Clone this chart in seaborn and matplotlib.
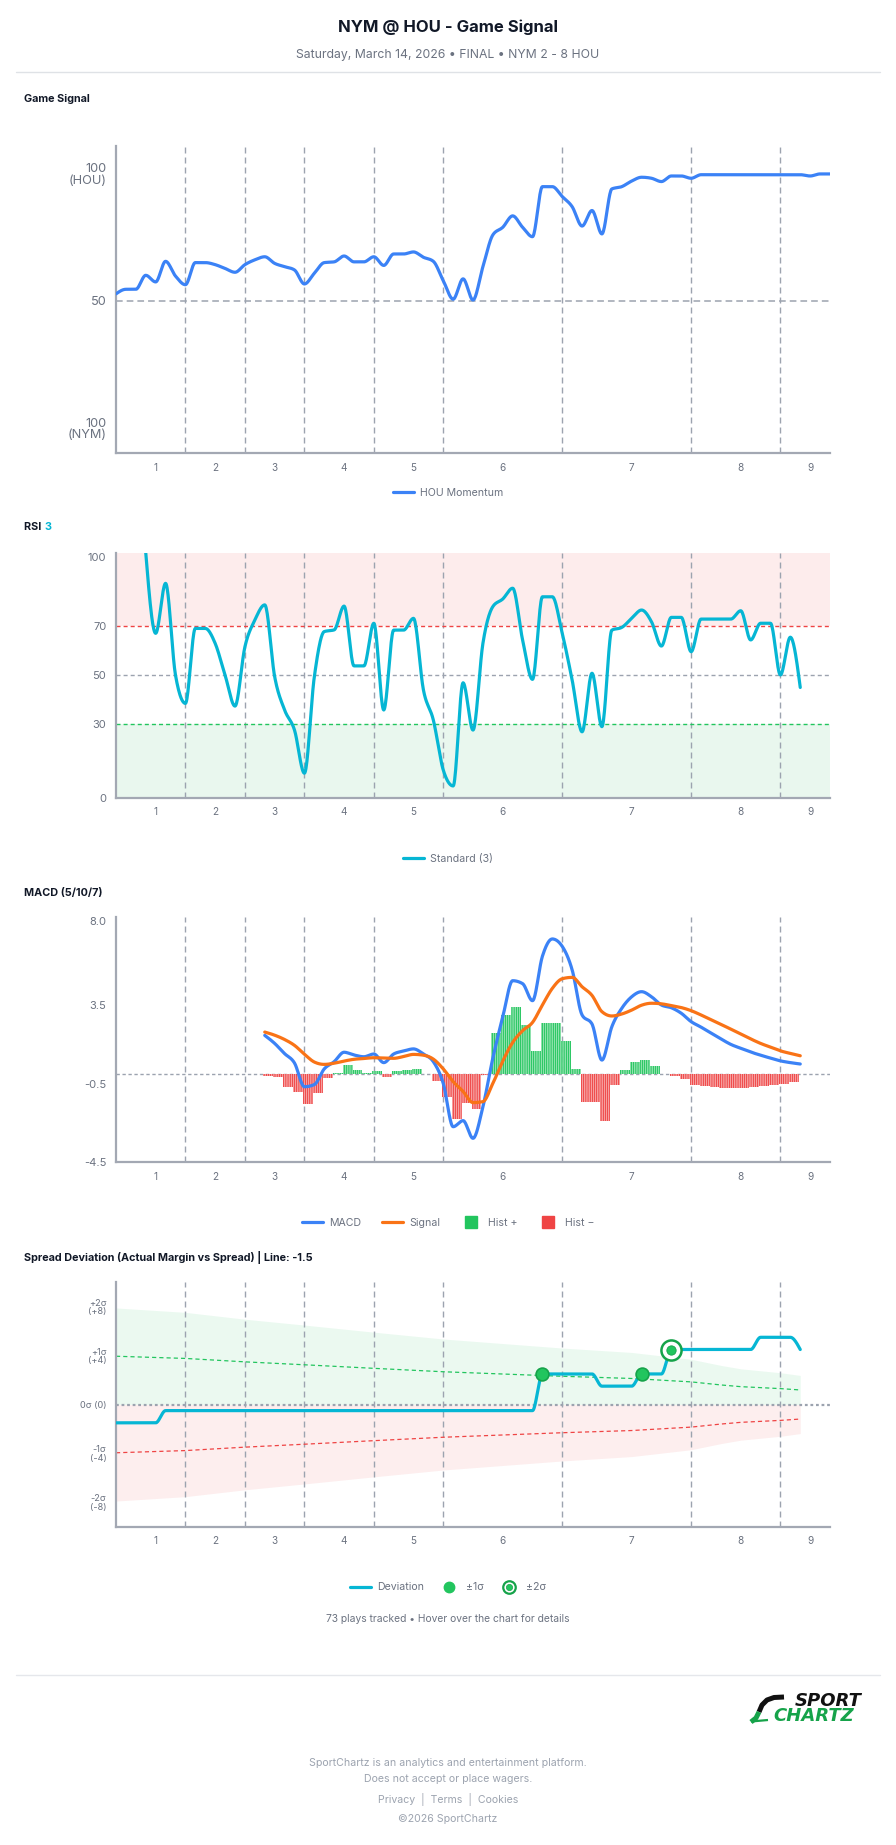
import numpy as np
import pandas as pd
import matplotlib
matplotlib.use("Agg")
import matplotlib.pyplot as plt
import seaborn as sns
from matplotlib.lines import Line2D
from matplotlib.legend_handler import HandlerTuple

# ------------------------------------------------------------------ data
inning_labels = ["1", "2", "3", "4", "5", "6", "7", "8", "9"]
inning_tick_plays = [4, 10, 16, 23, 30, 39, 52, 63, 70]
inning_boundaries = [7, 13, 19, 26, 33, 45, 58, 67]

signal_plays = list(range(0, 73))
signal_values = [52.8, 54.6, 54.6, 60.1, 57.5, 65.6, 59.8, 56.4, 65.1, 65.1,
                 64.3, 62.8, 61.3, 64.3, 66.2, 67.4, 64.8, 63.5, 62.2, 56.7,
                 60.9, 65.1, 65.4, 67.7, 65.4, 65.4, 67.4, 64.0, 68.5, 68.5,
                 69.3, 67.2, 65.6, 58.0, 50.7, 58.7, 50.4, 63.5, 76.0, 79.0,
                 83.5, 79.0, 75.3, 95.0, 95.0, 91.1, 87.1, 79.5, 85.6, 76.4,
                 94.1, 95.0, 97.2, 98.7, 98.3, 97.0, 99.2, 99.2, 98.3, 99.7,
                 99.7, 99.7, 99.7, 99.7, 99.7, 99.7, 99.7, 99.7, 99.7, 99.7,
                 99.2, 100.0, 100.0]

rsi_plays = list(range(3, 70))
rsi_values = [100, 67.1, 87.5, 50, 38.5, 69.1, 69.1, 63, 50, 37.4,
              61.6, 72.5, 78.7, 49.4, 35.8, 27.6, 10, 49.4, 67.8, 68.5,
              78.2, 53.8, 53.8, 71.2, 35.8, 68.4, 68.4, 73.2, 44, 31.7,
              11.3, 4.8, 46.9, 27.6, 63, 78, 81.1, 85.5, 64.4, 48.3,
              82, 82, 67.1, 48, 26.9, 50.8, 29, 68.4, 69.5, 73.2,
              76.6, 71.8, 61.9, 73.6, 73.6, 59.6, 72.9, 72.9, 72.9, 72.9,
              76.3, 64.4, 71.2, 71.2, 50.1, 65.5, 45]

macd_plays = list(range(15, 70))
macd_values = [1.96, 1.55, 1.03, 0.55, -0.66, -0.55, 0.25, 0.62, 1.10, 0.96,
               0.87, 1.01, 0.57, 1.01, 1.16, 1.27, 1.01, 0.62, -0.49, -2.70,
               -2.39, -3.29, -1.68, 0.80, 2.90, 4.75, 4.60, 3.73, 6.0, 6.88,
               6.5, 5.3, 3.0, 2.54, 0.70, 2.40, 3.34, 3.93, 4.19, 3.93,
               3.51, 3.37, 3.09, 2.66, 2.38, 2.08, 1.78, 1.50, 1.30, 1.11,
               0.95, 0.80, 0.66, 0.57, 0.50]
signal_line_values = [2.13, 1.97, 1.75, 1.45, 1.0, 0.6, 0.48, 0.54, 0.65, 0.74,
                      0.78, 0.82, 0.80, 0.79, 0.88, 0.99, 0.95, 0.75, 0.25, -0.4,
                      -0.9, -1.47, -1.42, -0.49, 0.65, 1.6, 2.2, 2.62, 3.51, 4.36,
                      4.85, 4.92, 4.44, 4.0, 3.17, 2.95, 3.05, 3.25, 3.5, 3.6,
                      3.57, 3.48, 3.38, 3.22, 3.0, 2.76, 2.52, 2.28, 2.03, 1.78,
                      1.55, 1.36, 1.17, 1.04, 0.92]
hist_plays = list(range(15, 69))
hist_values = [-0.11, -0.18, -0.66, -0.94, -1.54, -0.99, -0.23, 0.05, 0.43, 0.19,
               0.03, 0.14, -0.15, 0.12, 0.20, 0.25, -0.02, -0.35, -1.2, -2.3,
               -1.51, -1.82, -0.07, 2.06, 2.99, 3.42, 2.47, 1.16, 2.57, 2.6,
               1.68, 0.27, -1.43, -1.43, -2.41, -0.58, 0.19, 0.61, 0.70, 0.39,
               -0.02, -0.12, -0.29, -0.58, -0.61, -0.66, -0.70, -0.70, -0.70, -0.66,
               -0.63, -0.58, -0.53, -0.44]

dev_plays = list(range(0, 70))
dev_values = [-1.5, -1.5, -1.5, -1.5, -1.5, -0.5, -0.5, -0.5, -0.5, -0.5,
              -0.5, -0.5, -0.5, -0.5, -0.5, -0.5, -0.5, -0.5, -0.5, -0.5,
              -0.5, -0.5, -0.5, -0.5, -0.5, -0.5, -0.5, -0.5, -0.5, -0.5,
              -0.5, -0.5, -0.5, -0.5, -0.5, -0.5, -0.5, -0.5, -0.5, -0.5,
              -0.5, -0.5, -0.5, 2.5, 2.5, 2.5, 2.5, 2.5, 2.5, 1.5,
              1.5, 1.5, 1.5, 2.5, 2.5, 2.5, 4.5, 4.5, 4.5, 4.5,
              4.5, 4.5, 4.5, 4.5, 4.5, 5.5, 5.5, 5.5, 5.5, 4.5]
sigma_plays = [0, 7, 13, 19, 26, 33, 45, 52, 58, 61, 63, 67, 69]
sigma_values = [3.95, 3.77, 3.49, 3.25, 2.96, 2.68, 2.31, 2.13, 1.85, 1.6, 1.46, 1.30, 1.19]
one_sigma_hits = [43, 53]
two_sigma_hits = [56]

# ------------------------------------------------------------------ style
sns.set_theme(style="white")
plt.rcParams["font.family"] = ["Inter", "DejaVu Sans"]
plt.rcParams["lines.scale_dashes"] = False
plt.rcParams["hatch.linewidth"] = 0.35
plt.rcParams["hatch.color"] = "white"

W, H = 896, 1845
fig = plt.figure(figsize=(W / 100, H / 100), dpi=100)
fig.patch.set_facecolor("white")

GRAY = "#9ca3af"
TXT = "#6b7280"
BLUE = "#3b82f6"
CYAN = "#06b6d4"
ORANGE = "#f97316"
GREEN = "#22c55e"
DGREEN = "#16a34a"
RED = "#ef4444"
PANEL_TITLE = 7.8
LEG = 7.6


def fy(py):
    return 1 - py / H


def fx(px):
    return px / W


def make_ax(top, bottom):
    return fig.add_axes([fx(116), fy(bottom), fx(830) - fx(116), (bottom - top) / H])


def monotone(x, y, n=20):
    x = np.asarray(x, float)
    y = np.asarray(y, float)
    h = np.diff(x)
    s = np.diff(y) / h
    m = np.zeros_like(y)
    for k in range(1, len(y) - 1):
        s0, s1 = s[k - 1], s[k]
        p = (s0 * h[k] + s1 * h[k - 1]) / (h[k - 1] + h[k])
        m[k] = (np.sign(s0) + np.sign(s1)) * min(abs(s0), abs(s1), 0.5 * abs(p))
    if len(y) > 2:
        m[0] = (3 * s[0] - m[1]) / 2
        m[-1] = (3 * s[-1] - m[-2]) / 2
    else:
        m[:] = s[0]
    xs, ys = [], []
    for k in range(len(h)):
        t = np.linspace(0, 1, n, endpoint=(k == len(h) - 1))
        h00 = 2 * t**3 - 3 * t**2 + 1
        h10 = t**3 - 2 * t**2 + t
        h01 = -2 * t**3 + 3 * t**2
        h11 = t**3 - t**2
        xs.append(x[k] + t * h[k])
        ys.append(h00 * y[k] + h10 * h[k] * m[k] + h01 * y[k + 1] + h11 * h[k] * m[k + 1])
    return np.concatenate(xs), np.concatenate(ys)


def style_ax(ax, ylim, yticks, ylabels, ysize=8.0, top_label_down=False):
    ax.set_facecolor("white")
    for sp in ["top", "right"]:
        ax.spines[sp].set_visible(False)
    for sp in ["left", "bottom"]:
        ax.spines[sp].set_color("#a3a8b3")
        ax.spines[sp].set_linewidth(1.6)
    ax.set_xlim(0, 72)
    ax.set_ylim(*ylim)
    ax.set_xticks(inning_tick_plays)
    ax.set_xticklabels(inning_labels)
    ax.set_yticks(yticks)
    ax.set_yticklabels(ylabels)
    ax.tick_params(axis="x", length=4, width=1, color="#a3a8b3", labelsize=7.2,
                   labelcolor=TXT, pad=3, direction="out")
    ax.tick_params(axis="y", length=4, width=1, color="#a3a8b3", labelsize=ysize,
                   labelcolor=TXT, pad=3, direction="out")
    for lab in ax.get_yticklabels():
        lab.set_multialignment("right")
        lab.set_linespacing(0.95)
    if top_label_down:
        ax.get_yticklabels()[-1].set_verticalalignment("top")
    ax.grid(False)
    for b in inning_boundaries:
        ax.axvline(b, color=GRAY, lw=1.0, ls=(0, (4.3, 2.9)), zorder=1)
    ax.set_xlabel("")
    ax.set_ylabel("")


def legend(ax, handles, labels, y_px, **kw):
    opts = dict(loc="center", bbox_to_anchor=(0.5, fy(y_px)), bbox_transform=fig.transFigure,
                ncol=len(handles), frameon=False, fontsize=LEG, handlelength=2.0,
                columnspacing=1.9, handletextpad=0.6, labelcolor=TXT, borderaxespad=0)
    opts.update(kw)
    return ax.legend(handles, labels, **opts)


# ------------------------------------------------------------------ header
fig.text(0.5, fy(27), "NYM @ HOU - Game Signal", ha="center", va="center",
         fontsize=12, fontweight="bold", color="#111827")
fig.text(0.5, fy(55), "Saturday, March 14, 2026 \u2022 FINAL \u2022 NYM 2 - 8 HOU", ha="center",
         va="center", fontsize=8.8, color=TXT)
fig.add_artist(Line2D([fx(16), fx(880)], [fy(72), fy(72)], color="#dfe2e6", lw=1))

# ------------------------------------------------------------------ panel 1: game signal
fig.text(fx(24), fy(99), "Game Signal", ha="left", va="center", fontsize=PANEL_TITLE,
         fontweight="bold", color="#111827")
ax1 = make_ax(146, 453)
style_ax(ax1, (-9.84, 111.0), [0, 50, 100], ["100\n(NYM)", "50", "100\n(HOU)"], ysize=9.2)
ax1.axhline(50, color=GRAY, lw=1.1, ls=(0, (4.8, 2.9)), zorder=1)
sx, sy = monotone(signal_plays, signal_values)
sns.lineplot(x=sx, y=sy, ax=ax1, color=BLUE, lw=2.3, zorder=3, sort=False, estimator=None)
legend(ax1, [Line2D([], [], color=BLUE, lw=2.3)], ["HOU Momentum"], 493)

# ------------------------------------------------------------------ panel 2: RSI
t_rsi = fig.text(fx(24), fy(527), "RSI ", ha="left", va="center", fontsize=PANEL_TITLE,
                 fontweight="bold", color="#111827")
fig.canvas.draw()
bb = t_rsi.get_window_extent()
fig.text(bb.x1 / W, fy(527), "3", ha="left", va="center", fontsize=PANEL_TITLE,
         fontweight="bold", color=CYAN)
ax2 = make_ax(552.7, 797.7)
style_ax(ax2, (0, 100), [0, 30, 50, 70, 100], ["0", "30", "50", "70", "100"], ysize=8.0,
         top_label_down=True)
ax2.axhspan(70, 100, color="#fdecec", lw=0, zorder=0)
ax2.axhspan(0, 30, color="#e9f7ee", lw=0, zorder=0)
ax2.axhline(70, color=RED, lw=1.0, ls=(0, (2.9, 2.2)), zorder=2)
ax2.axhline(50, color=GRAY, lw=1.0, ls=(0, (2.9, 2.2)), zorder=2)
ax2.axhline(30, color=GREEN, lw=1.0, ls=(0, (2.9, 2.2)), zorder=2)
rx, ry = monotone(rsi_plays, rsi_values)
sns.lineplot(x=rx, y=ry, ax=ax2, color=CYAN, lw=2.3, zorder=3, sort=False, estimator=None)
legend(ax2, [Line2D([], [], color=CYAN, lw=2.3)], ["Standard (3)"], 858.7)

# ------------------------------------------------------------------ panel 3: MACD
fig.text(fx(24), fy(893), "MACD (5/10/7)", ha="left", va="center", fontsize=PANEL_TITLE,
         fontweight="bold", color="#111827")
ax3 = make_ax(917, 1162)
style_ax(ax3, (-4.5, 8.0), [-4.5, -0.5, 3.5, 8.0], ["-4.5", "-0.5", "3.5", "8.0"], ysize=8.0,
         top_label_down=True)
ax3.axhline(0, color=GRAY, lw=1.0, ls=(0, (2.4, 1.9)), zorder=1)
hx = np.asarray(hist_plays, float) + 0.35
hv = np.asarray(hist_values)
ax3.bar(hx, hv, width=1.0, color=np.where(hv >= 0, GREEN, RED), edgecolor="white",
        linewidth=0, hatch="|" * 9, zorder=2, alpha=0.95)
mx, my = monotone(macd_plays, macd_values)
gx, gy = monotone(macd_plays, signal_line_values)
sns.lineplot(x=mx, y=my, ax=ax3, color=BLUE, lw=2.3, zorder=4, sort=False, estimator=None)
sns.lineplot(x=gx, y=gy, ax=ax3, color=ORANGE, lw=2.3, zorder=4, sort=False, estimator=None)
legend(ax3,
       [Line2D([], [], color=BLUE, lw=2.3), Line2D([], [], color=ORANGE, lw=2.3),
        Line2D([], [], ls="", marker="s", ms=8.5, mfc=GREEN, mec=GREEN),
        Line2D([], [], ls="", marker="s", ms=8.5, mfc=RED, mec=RED)],
       ["MACD", "Signal", "Hist +", "Hist \u2212"], 1222.7)

# ------------------------------------------------------------------ panel 4: spread deviation
fig.text(fx(24), fy(1257), "Spread Deviation (Actual Margin vs Spread) | Line: -1.5", ha="left",
         va="center", fontsize=PANEL_TITLE, fontweight="bold", color="#111827")
ax4 = make_ax(1282.3, 1526.7)
style_ax(ax4, (-10, 10), [-8, -4, 0, 4, 8],
         ["-2\u03c3\n(-8)", "-1\u03c3\n(-4)", "0\u03c3 (0)", "+1\u03c3\n(+4)", "+2\u03c3\n(+8)"],
         ysize=6.6)
sp = np.asarray(sigma_plays, float)
sv = np.asarray(sigma_values)
ax4.fill_between(sp, 0, 2 * sv, color=GREEN, alpha=0.09, lw=0, zorder=0)
ax4.fill_between(sp, -2 * sv, 0, color=RED, alpha=0.09, lw=0, zorder=0)
ax4.plot(sp, sv, color=GREEN, lw=0.9, ls=(0, (3.0, 2.2)), zorder=2)
ax4.plot(sp, -sv, color=RED, lw=0.9, ls=(0, (3.0, 2.2)), zorder=2)
ax4.axhline(0, color=GRAY, lw=1.6, ls=(0, (2.0, 2.0)), zorder=2)
dx, dy = monotone(dev_plays, dev_values)
sns.lineplot(x=dx, y=dy, ax=ax4, color=CYAN, lw=2.3, zorder=4, sort=False, estimator=None)
dev_lookup = dict(zip(dev_plays, dev_values))
ax4.scatter(one_sigma_hits, [dev_lookup[p] for p in one_sigma_hits], s=85, color=GREEN,
            edgecolor=DGREEN, linewidth=1.2, zorder=6)
ax4.scatter(two_sigma_hits, [dev_lookup[p] for p in two_sigma_hits], s=210, facecolor="white",
            edgecolor=DGREEN, linewidth=1.8, zorder=6)
ax4.scatter(two_sigma_hits, [dev_lookup[p] for p in two_sigma_hits], s=45, color=GREEN,
            edgecolor=DGREEN, linewidth=0.6, zorder=7)
ring = (Line2D([], [], ls="", marker="o", ms=9, mfc="white", mec=DGREEN, mew=1.6),
        Line2D([], [], ls="", marker="o", ms=4.5, mfc=GREEN, mec=DGREEN, mew=0.5))
legend(ax4,
       [Line2D([], [], color=CYAN, lw=2.3),
        Line2D([], [], ls="", marker="o", ms=7.5, mfc=GREEN, mec=GREEN),
        ring],
       ["Deviation", "\u00b11\u03c3", "\u00b12\u03c3"], 1587.3,
       handler_map={tuple: HandlerTuple(ndivide=1)}, columnspacing=1.4)

fig.text(0.5, fy(1619), "73 plays tracked \u2022 Hover over the chart for details", ha="center",
         va="center", fontsize=7.4, color=TXT)

# ------------------------------------------------------------------ footer
fig.add_artist(Line2D([fx(16), fx(880)], [fy(1675), fy(1675)], color="#e5e7eb", lw=1))
fig.add_artist(Line2D([fx(784), fx(774), fx(767), fx(762), fx(759)],
                      [fy(1697), fy(1697.5), fy(1700), fy(1705), fy(1712)],
                      color="#111111", lw=3.6, solid_capstyle="butt"))
fig.add_artist(Line2D([fx(759), fx(756), fx(751)], [fy(1712), fy(1718), fy(1722)],
                      color=DGREEN, lw=3.6, solid_capstyle="butt"))
fig.add_artist(Line2D([fx(751), fx(768)], [fy(1721.5), fy(1720)],
                      color=DGREEN, lw=1.6, solid_capstyle="butt"))
fig.text(fx(862), fy(1701), "SPORT", ha="right", va="center", fontsize=13, fontweight="bold",
         fontstyle="italic", color="#111111", family="DejaVu Sans")
fig.text(fx(854), fy(1716), "CHARTZ", ha="right", va="center", fontsize=13, fontweight="bold",
         fontstyle="italic", color=DGREEN, family="DejaVu Sans")
fig.text(0.5, fy(1763), "SportChartz is an analytics and entertainment platform.", ha="center",
         va="center", fontsize=7.6, color=GRAY)
fig.text(0.5, fy(1779.5), "Does not accept or place wagers.", ha="center", va="center",
         fontsize=7.6, color=GRAY)
fig.text(0.5, fy(1799.5), "Privacy  |  Terms  |  Cookies", ha="center", va="center",
         fontsize=7.6, color=GRAY)
fig.text(0.5, fy(1819.5), "\u00a92026 SportChartz", ha="center", va="center", fontsize=7.6,
         color=GRAY)

fig.savefig("out.png", dpi=100, facecolor="white")
